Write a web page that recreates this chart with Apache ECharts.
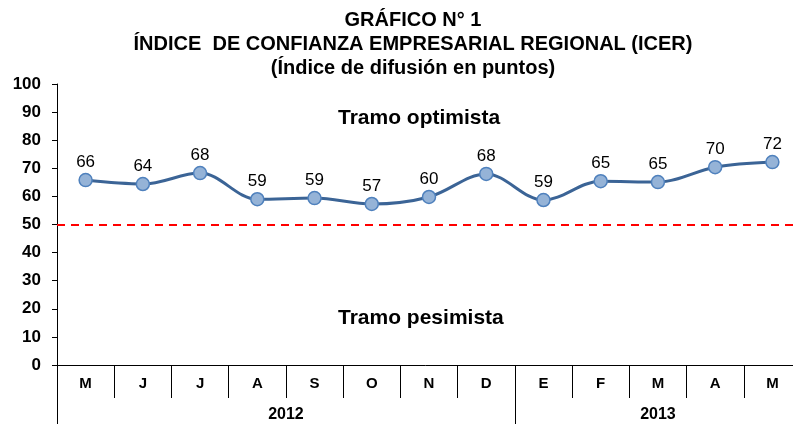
<!DOCTYPE html>
<html>
<head>
<meta charset="utf-8">
<script src="https://cdn.jsdelivr.net/npm/echarts@6/dist/echarts.min.js"></script>
<style>
	html, body { margin: 0; padding: 0; background: #fff; }
	#chart { width: 793px; height: 424px; }
</style>
</head>
<body>
<div id="chart"></div>
<script>
// meses (may 2012 - may 2013)
var months = ['M', 'J', 'J', 'A', 'S', 'O', 'N', 'D', 'E', 'F', 'M', 'A', 'M'];
var icer = [65.8, 64.4, 68.3, 59.0, 59.4, 57.3, 59.8, 68.0, 58.7, 65.4, 65.1, 70.4, 72.2];
var yearLabels = ['2012', '2013'];
var yearCenters = [4, 10.5];
var yearBreaks = [0, 8, 13];
var neutral = 50;

var myChart = echarts.init(document.getElementById('chart'));
var option = {
	animation : false,
	title : {
		text : 'GRÁFICO N° 1\nÍNDICE  DE CONFIANZA EMPRESARIAL REGIONAL (ICER)\n(Índice de difusión en puntos)',
		left : 408,
		top : 3,
		textAlign : 'center',
		textStyle : {
			fontFamily : 'Liberation Sans, Arial, sans-serif',
			fontSize : 20,
			fontWeight : 'bold',
			color : '#000',
			lineHeight : 24
		}
	},
	graphic : [ {
		type : 'text',
		left : 338,
		top : 108,
		style : {
			text : 'Tramo optimista',
			font : 'bold 21px Liberation Sans, Arial, sans-serif',
			fill : '#000'
		}
	}, {
		type : 'text',
		left : 338,
		top : 308,
		style : {
			text : 'Tramo pesimista',
			font : 'bold 21px Liberation Sans, Arial, sans-serif',
			fill : '#000'
		}
	} ],
	grid : {
		left : 57,
		width : 744,
		top : 84,
		bottom : 59,
		outerBoundsMode : 'none'
	},
	xAxis : [ {
		type : 'category',
		data : months,
		boundaryGap : true,
		axisLine : {
			lineStyle : { color : '#000', width : 1 }
		},
		axisTick : {
			show : true,
			interval : 0,
			length : 33,
			lineStyle : { color : '#000' }
		},
		axisLabel : {
			interval : 0,
			margin : 11,
			fontFamily : 'Liberation Sans, Arial, sans-serif',
			fontSize : 15,
			fontWeight : 'bold',
			color : '#000'
		}
	}, {
		type : 'value',
		position : 'bottom',
		offset : 33,
		min : 0,
		max : 13,
		axisLine : { show : false },
		splitLine : { show : false },
		axisTick : {
			show : true,
			customValues : yearBreaks,
			length : 27,
			lineStyle : { color : '#000' }
		},
		axisLabel : {
			customValues : yearCenters,
			margin : 9,
			fontFamily : 'Liberation Sans, Arial, sans-serif',
			fontSize : 16,
			fontWeight : 'bold',
			color : '#000',
			formatter : function(v) {
				return v < 8 ? yearLabels[0] : yearLabels[1];
			}
		}
	} ],
	yAxis : [ {
		type : 'value',
		min : 0,
		max : 100,
		interval : 10,
		axisLine : {
			show : true,
			lineStyle : { color : '#000', width : 1 }
		},
		axisTick : {
			show : true,
			length : 5,
			lineStyle : { color : '#000' }
		},
		splitLine : { show : false },
		axisLabel : {
			margin : 16,
			fontFamily : 'Liberation Sans, Arial, sans-serif',
			fontSize : 17,
			fontWeight : 'bold',
			color : '#000'
		}
	} ],
	series : [ {
		name : 'ICER',
		type : 'line',
		data : icer,
		smooth : 0.35,
		symbol : 'circle',
		symbolSize : 13,
		lineStyle : {
			color : '#3B6496',
			width : 3
		},
		itemStyle : {
			color : '#95B3D7',
			borderColor : '#4F81BD',
			borderWidth : 1.5
		},
		label : {
			show : true,
			position : 'top',
			distance : 2,
			fontFamily : 'Liberation Sans, Arial, sans-serif',
			fontSize : 17,
			color : '#000',
			formatter : function(p) {
				return Math.round(p.value);
			}
		},
		markLine : {
			silent : true,
			symbol : 'none',
			label : { show : false },
			lineStyle : {
				color : '#FF0000',
				type : [8, 6],
				width : 2
			},
			data : [ { yAxis : neutral } ]
		}
	} ]
};
myChart.setOption(option);
</script>
</body>
</html>
